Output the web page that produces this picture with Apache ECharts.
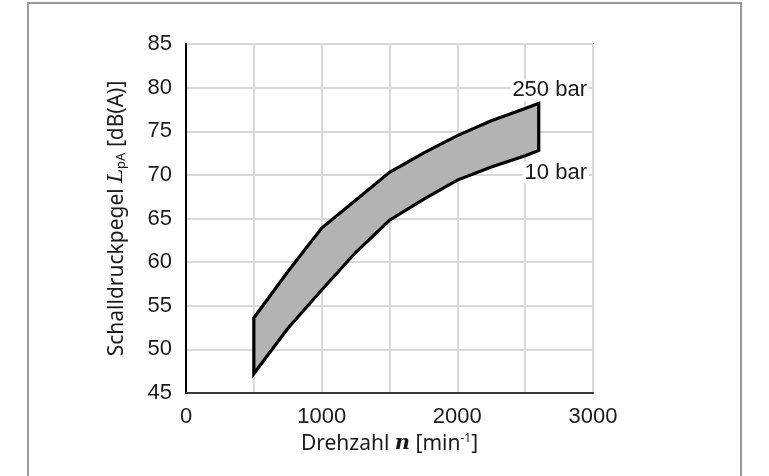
<!DOCTYPE html>
<html>
<head>
<meta charset="utf-8">
<script src="https://cdn.jsdelivr.net/npm/echarts@6/dist/echarts.min.js"></script>
<style>
  html, body { margin: 0; padding: 0; background: #fff; }
  #chart { width: 769px; height: 476px; }
</style>
</head>
<body>
<div id="chart"></div>
<script>
// Rotational speed n [min^-1]
const speeds = [500, 750, 1000, 1250, 1500, 1750, 2000, 2250, 2500, 2600];
// Sound pressure level L_pA [dB(A)] at 250 bar (upper boundary)
const level250 = [53.6, 58.9, 63.9, 67.1, 70.3, 72.5, 74.5, 76.2, 77.6, 78.2];
// Sound pressure level L_pA [dB(A)] at 10 bar (lower boundary)
const level10 = [47.2, 52.4, 56.8, 61.1, 64.8, 67.2, 69.4, 70.9, 72.2, 72.8];
// Boundary curve names
const curveNames = ['250 bar', '10 bar'];
// Axis tick values
const xTicks = [0, 1000, 2000, 3000];
const yTicks = [45, 50, 55, 60, 65, 70, 75, 80, 85];

const chart = echarts.init(document.getElementById('chart'));
const textColor = '#1a1a1a';
const sans = '"Liberation Sans", Arial, sans-serif';
const titleFont = '"Noto Sans", "Open Sans", sans-serif';
const serif = '"DejaVu Serif", "Liberation Serif", serif';

function renderBand(params, api) {
  const top = speeds.map((n, i) => api.coord([n, level250[i]]));
  const bottom = speeds.map((n, i) => api.coord([n, level10[i]])).reverse();
  const endTop = top[top.length - 1];
  const endBottom = bottom[0];
  const plotRight = api.coord([3000, 45])[0];
  return {
    type: 'group',
    children: [
      {
        type: 'polygon',
        shape: { points: top.concat(bottom) },
        style: { fill: '#b3b3b3', stroke: '#000', lineWidth: 3.2, lineJoin: 'miter' }
      },
      {
        type: 'text',
        style: {
          text: curveNames[0], x: plotRight - 4, y: endTop[1] - 13,
          align: 'right', verticalAlign: 'middle',
          font: '22px ' + sans, fill: textColor,
          backgroundColor: '#fff', padding: [0, 2]
        }
      },
      {
        type: 'text',
        style: {
          text: curveNames[1], x: plotRight - 4, y: endBottom[1] + 22,
          align: 'right', verticalAlign: 'middle',
          font: '22px ' + sans, fill: textColor,
          backgroundColor: '#fff', padding: [0, 2]
        }
      }
    ]
  };
}

chart.setOption({
  animation: false,
  backgroundColor: '#fff',
  graphic: [{
    type: 'rect',
    shape: { x: 28, y: 3, width: 713, height: 520 },
    style: { fill: 'none', stroke: '#9a9a9a', lineWidth: 2 },
    silent: true, z: -10
  }],
  grid: {
    left: 186, right: 176, top: 44, bottom: 83,
    show: true, borderColor: '#111', borderWidth: 2
  },
  xAxis: {
    type: 'value',
    min: xTicks[0], max: xTicks[xTicks.length - 1], interval: 500,
    name: '{a|Drehzahl }{n|n}{a| [min}{sup|-1}{a|]}',
    nameLocation: 'middle', nameGap: 33,
    nameTextStyle: {
      rich: {
        a: { fontFamily: titleFont, fontSize: 21, color: textColor },
        n: { fontFamily: serif, fontStyle: 'italic', fontWeight: 'bold', fontSize: 21, color: textColor },
        sup: { fontFamily: titleFont, fontSize: 12, color: textColor, padding: [0, 0, 10, 0] }
      }
    },
    axisLine: { show: true, lineStyle: { color: '#3a3a3a', width: 2 } },
    axisTick: { show: false },
    splitLine: { show: true, lineStyle: { color: '#d9d9d9', width: 2 } },
    axisLabel: {
      margin: 13, fontFamily: sans, fontSize: 22, color: textColor,
      formatter: v => xTicks.includes(v) ? String(v) : ''
    }
  },
  yAxis: {
    type: 'value',
    min: yTicks[0], max: yTicks[yTicks.length - 1], interval: 5,
    name: '{a|Schalldruckpegel }{l|L}{s|pA}{a| [dB(A)]}',
    nameLocation: 'middle', nameGap: 58,
    nameTextStyle: {
      rich: {
        a: { fontFamily: titleFont, fontSize: 21, color: textColor },
        l: { fontFamily: serif, fontStyle: 'italic', fontSize: 21, color: textColor },
        s: { fontFamily: titleFont, fontSize: 13, color: textColor, padding: [9, 0, 0, 0] }
      }
    },
    axisLine: { show: true, lineStyle: { color: '#000', width: 2 } },
    axisTick: { show: false },
    splitLine: { show: true, lineStyle: { color: '#d9d9d9', width: 2 } },
    axisLabel: {
      margin: 14, fontFamily: sans, fontSize: 22, color: textColor,
      formatter: v => yTicks.includes(v) ? String(v) : ''
    }
  },
  series: [{
    type: 'custom',
    name: 'Schalldruckpegel',
    coordinateSystem: 'cartesian2d',
    renderItem: renderBand,
    data: [[speeds[0], level10[0]]],
    clip: false,
    z: 3
  }]
});
</script>
</body>
</html>
